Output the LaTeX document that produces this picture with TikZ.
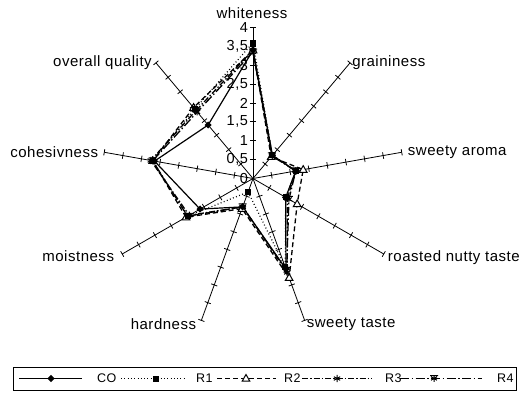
\documentclass[tikz,border=0pt]{standalone}
\usepackage{fontspec}
\setmainfont{Liberation Sans}[LetterSpace=3.5]
\usetikzlibrary{calc}
\tikzset{
  axisline/.style={line width=0.8pt, black},
  coline/.style={line width=1.2pt, black},
  rone/.style={line width=1.2pt, black, dash pattern=on 0.9pt off 2.4pt},
  rtwo/.style={line width=1.3pt, black, dash pattern=on 5pt off 3pt},
  rthree/.style={line width=1.3pt, black, dash pattern=on 6pt off 2pt on 1.5pt off 2pt},
  rfour/.style={line width=1.3pt, black, dash pattern=on 9pt off 2.5pt on 1.5pt off 2.5pt},
  lab/.style={inner sep=0pt, font=\fontsize{15}{17}\selectfont},
  keylab/.style={inner sep=0pt, anchor=west, font=\fontsize{12.5}{15}\selectfont},
  ticklab/.style={inner sep=0pt, anchor=east, font=\fontsize{14.5}{16}\selectfont},
  mdiamond/.pic={\fill (0,3.6pt) -- (3.6pt,0) -- (0,-3.6pt) -- (-3.6pt,0) -- cycle;},
  msquare/.pic={\fill (-3pt,-3pt) rectangle (3pt,3pt);},
  mtri/.pic={\draw[line width=1pt, fill=white] (0,4pt) -- (3.8pt,-2.6pt) -- (-3.8pt,-2.6pt) -- cycle;},
  mast/.pic={\draw[line width=1pt] (90:3.6pt) -- (-90:3.6pt) (30:3.6pt) -- (210:3.6pt) (150:3.6pt) -- (-30:3.6pt);},
  mstar/.pic={\draw[line width=1pt] (90:3.4pt) -- (-90:3.4pt) (30:3.4pt) -- (210:3.4pt) (150:3.4pt) -- (-30:3.4pt) (-4pt,3pt) -- (4pt,3pt);},
}
\begin{document}
\begin{tikzpicture}[x=1pt,y=-1pt]
\useasboundingbox (0,0) rectangle (523,394);
\begin{scope}[shift={(253,178.5)}, x=37.75pt, y=37.75pt]
  \coordinate (O) at (0,0);
  % axes with ticks
  \foreach \a/\n in {90/wh,50/gr,10/sa,-30/rn,-70/st,-110/ha,-150/mo,170/co,130/oq} {
    \draw[axisline] (O) -- (\a:4) coordinate (\n-end);
    \foreach \v in {0.5,1,1.5,2,2.5,3,3.5,4}
      \draw[axisline] ($(\a:\v)+(\a+90:0.085)$) -- ($(\a:\v)+(\a-90:0.085)$);
  }
  % tick labels on whiteness axis
  \foreach \v/\t in {0/0,0.5/{0,5},1/1,1.5/{1,5},2/2,2.5/{2,5},3/3,3.5/{3,5},4/4}
    \node[ticklab] (t\v) at (-0.13,\v) {\t};
  % data points
  \foreach \v [count=\i from 0] in {3.4,0.8,1.15,1.0,2.55,0.8,1.62,2.65,1.85}
    \coordinate (CO\i) at ({90-40*\i}:\v);
  \foreach \v [count=\i from 0] in {3.6,0.8,1.15,1.0,2.5,0.38,2.0,2.7,2.4}
    \coordinate (RA\i) at ({90-40*\i}:\v);
  \foreach \v [count=\i from 0] in {3.4,0.75,1.35,1.35,2.8,0.85,2.05,2.7,2.45}
    \coordinate (RB\i) at ({90-40*\i}:\v);
  \foreach \v [count=\i from 0] in {3.4,0.8,1.15,1.05,2.65,0.8,1.95,2.75,2.35}
    \coordinate (RC\i) at ({90-40*\i}:\v);
  \foreach \v [count=\i from 0] in {3.35,0.78,1.15,1.1,2.6,0.8,2.0,2.7,2.3}
    \coordinate (RD\i) at ({90-40*\i}:\v);
  % series lines
  \draw[rfour] (RD0) -- (RD1) -- (RD2) -- (RD3) -- (RD4) -- (RD5) -- (RD6) -- (RD7) -- (RD8) -- cycle;
  \draw[rthree] (RC0) -- (RC1) -- (RC2) -- (RC3) -- (RC4) -- (RC5) -- (RC6) -- (RC7) -- (RC8) -- cycle;
  \draw[rtwo] (RB0) -- (RB1) -- (RB2) -- (RB3) -- (RB4) -- (RB5) -- (RB6) -- (RB7) -- (RB8) -- cycle;
  \draw[rone] (RA0) -- (RA1) -- (RA2) -- (RA3) -- (RA4) -- (RA5) -- (RA6) -- (RA7) -- (RA8) -- cycle;
  \draw[coline] (CO0) -- (CO1) -- (CO2) -- (CO3) -- (CO4) -- (CO5) -- (CO6) -- (CO7) -- (CO8) -- cycle;
  % markers
  \foreach \i in {0,...,8} {
    \path (RD\i) pic{mstar};
    \path (RC\i) pic{mast};
    \path (RB\i) pic{mtri};
    \path (RA\i) pic{msquare};
    \path (CO\i) pic{mdiamond};
  }
\end{scope}
% axis labels
\node[lab] (Lwh) at (252,13) {whiteness};
\node[lab, anchor=west] (Lgr) at ([xshift=2pt]gr-end) {graininess};
\node[lab, anchor=west] (Lsa) at ([xshift=6pt]sa-end) {sweety aroma};
\node[lab, anchor=west] (Lrn) at ([xshift=4pt,yshift=-4pt]rn-end) {roasted nutty taste};
\node[lab, anchor=west] (Lst) at ([xshift=2pt,yshift=-4pt]st-end) {sweety taste};
\node[lab, anchor=east] (Lha) at ([xshift=-5pt,yshift=-4pt]ha-end) {hardness};
\node[lab, anchor=east] (Lmo) at ([xshift=-8pt,yshift=-2pt]mo-end) {moistness};
\node[lab, anchor=east] (Lco) at ([xshift=-6pt]co-end) {cohesivness};
\node[lab, anchor=east] (Loq) at ([xshift=-4pt]oq-end) {overall quality};
% legend
\node[draw, line width=1pt, anchor=north west, inner sep=0pt, minimum width=503pt, minimum height=23pt] (legend) at (13,367) {};
\coordinate (l0) at (19,378.5);
\coordinate (l1) at (82,378.5);
\coordinate (l2) at (121,378.5);
\coordinate (l3) at (186,378.5);
\coordinate (l4) at (217,378.5);
\coordinate (l5) at (276,378.5);
\coordinate (l6) at (302,378.5);
\coordinate (l7) at (372,378.5);
\coordinate (l8) at (400,378.5);
\coordinate (l9) at (482,378.5);
\draw[coline] (l0) -- (l1);
\path (51,378.5) pic{mdiamond};
\node[keylab] (kCO) at (97,378.5) {CO};
\draw[rone] (l2) -- (l3);
\path (156,378.5) pic{msquare};
\node[keylab] (kR1) at (196,378.5) {R1};
\draw[rtwo] (l4) -- (l5);
\path (246,378.5) pic{mtri};
\node[keylab] (kR2) at (284,378.5) {R2};
\draw[rthree] (l6) -- (l7);
\path (337,378.5) pic{mast};
\node[keylab] (kR3) at (385,378.5) {R3};
\draw[rfour] (l8) -- (l9);
\path (434,378.5) pic{mstar};
\node[keylab] (kR4) at (497,378.5) {R4};
\end{tikzpicture}
\end{document}
